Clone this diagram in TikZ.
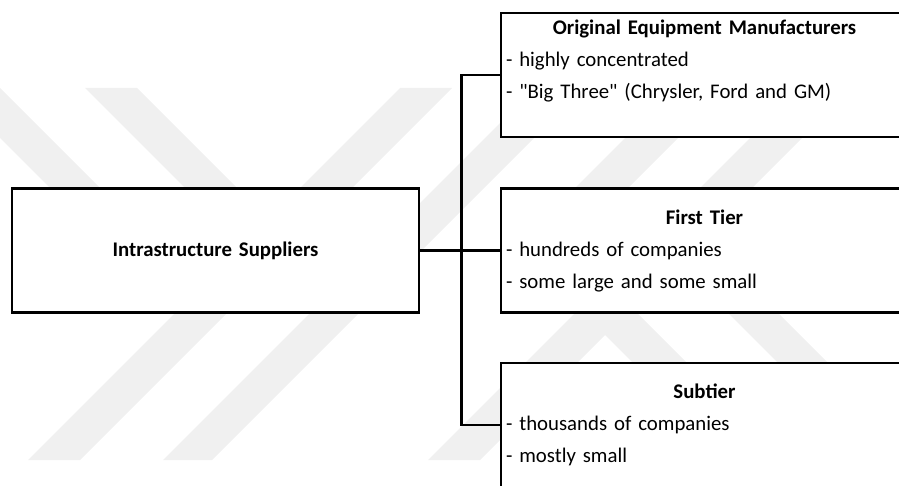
\documentclass[tikz,border=0pt]{standalone}
\usepackage{fontspec}
\setmainfont{Carlito}[Ligatures=TeXOff]
\usetikzlibrary{calc}
\begin{document}
\begin{tikzpicture}[x=1pt, y=-1pt,
    box/.style={draw, line width=2.8pt, fill=white, minimum width=407pt, minimum height=124pt,
      inner xsep=5pt, inner ysep=0pt, text width=397pt, align=left,
      font=\fontsize{20.8}{32}\selectfont},
    link/.style={line width=2.8pt},
    wmark/.style={fill=black!6}]
        \useasboundingbox (0,0) rectangle (899,486);
        \clip (0,0) rectangle (899,486);

        % Faint watermark bands behind everything
        \fill[wmark] (-50,88) -- (0,88) -- (212,300) -- (162,300) -- cycle;
        \fill[wmark] (85,88) -- (137,88) -- (349,300) -- (297,300) -- cycle;
        \fill[wmark] (28,460) -- (80,460) -- (452,88) -- (400,88) -- cycle;
        \fill[wmark] (163,460) -- (212,460) -- (584,88) -- (535,88) -- cycle;
        \fill[wmark] (428,460) -- (480,460) -- (852,88) -- (800,88) -- cycle;
        \fill[wmark] (675,88) -- (728,88) -- (556,260) -- (503,260) -- cycle;
        \fill[wmark] (530,260) -- (584,260) -- (784,460) -- (730,460) -- cycle;
        \fill[wmark] (685,270) -- (735,270) -- (925,460) -- (875,460) -- cycle;

        % Boxes
        \node[box, align=center] (infra) at (215.5,250.5) {\textbf{Intrastructure Suppliers}};
        \node[box] (oem) at (704.5,75)
          {{\centering\textbf{Original Equipment Manufacturers}\par}- highly concentrated\\
           - "Big Three" (Chrysler, Ford and GM)\\\mbox{}};
        \node[box] (first) at (704.5,250.5)
          {{\centering\textbf{First Tier}\par}- hundreds of companies\\- some large and some small};
        \node[box] (sub) at (704.5,425)
          {{\centering\textbf{Subtier}\par}- thousands of companies\\- mostly small};

        % Connectors (trunk between the columns)
        \coordinate (j) at ($(infra.east)!0.52!(first.west)$);
        \draw[link] (infra.east) -- (first.west);
        \draw[link] (oem.west) -| (j) |- (sub.west);
\end{tikzpicture}
\end{document}
